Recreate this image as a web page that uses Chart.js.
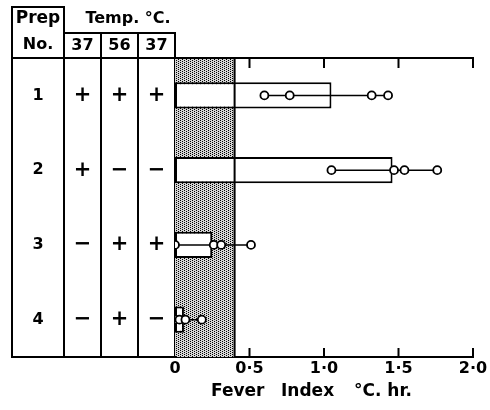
<!DOCTYPE html>
<html>
<head>
<meta charset="utf-8">
<script src="https://cdn.jsdelivr.net/npm/chart.js@4.4.0/dist/chart.umd.min.js"></script>
<style>
  body { margin: 0; background: #fff; }
  #wrap { width: 490px; height: 410px; }
</style>
</head>
<body>
<div id="wrap"><canvas id="fever" width="490" height="410"></canvas></div>
<script>
// table columns
const prepNo = ['1', '2', '3', '4'];
const tempHeads = ['37', '56', '37'];
const temp37a = ['+', '+', '−', '−'];
const temp56 = ['+', '−', '+', '+'];
const temp37b = ['+', '−', '+', '−'];

// fever index, mean bar + single rabbits
const meanIndex = [1.05, 1.46, 0.25, 0.06];
const prep1 = [0.60, 0.77, 1.32, 1.43];
const prep2 = [1.05, 1.47, 1.54, 1.76];
const prep3 = [0.00, 0.26, 0.31, 0.51];
const prep4 = [0.00, 0.03, 0.07, 0.18];
const bandLimit = 0.4;
const tickLabels = ['0', '0·5', '1·0', '1·5', '2·0'];
const axisTitle = ['Fever', 'Index', '°C. hr.'];

const FONT = "'DejaVu Sans'";

function makePattern() {
    const c = document.createElement('canvas');
    c.width = 4; c.height = 4;
    const g = c.getContext('2d');
    g.fillStyle = '#d4d4d4';
    g.fillRect(0, 0, 4, 4);
    g.fillStyle = '#000';
    g.fillRect(0, 0, 1, 1);
    g.fillRect(2, 1, 1, 1);
    g.fillRect(0, 2, 1, 1);
    g.fillRect(2, 3, 1, 1);
    return g.createPattern(c, 'repeat');
}

function pointSet(vals, label) {
    return {
        type: 'line',
        order: 1,
        data: vals.map(v => ({x: v, y: label})),
        borderColor: '#000',
        borderWidth: 1.5,
        pointRadius: 4,
        pointBorderWidth: 1.8,
        pointBackgroundColor: '#fff',
        pointBorderColor: '#000',
        fill: false
    };
}

const tablePlugin = {
    id: 'fever.table',
    beforeDatasetsDraw(chart) {
        const {ctx, chartArea, scales} = chart;
        const x0 = scales.x.getPixelForValue(0);
        const x1 = scales.x.getPixelForValue(bandLimit);
        ctx.save();
        ctx.fillStyle = makePattern();
        ctx.fillRect(x0, chartArea.top, x1 - x0, chartArea.bottom - chartArea.top);
        ctx.restore();
    },
    afterDatasetsDraw(chart) {
        const {ctx, chartArea, scales} = chart;
        const x1 = scales.x.getPixelForValue(bandLimit);
        ctx.save();
        ctx.strokeStyle = '#000';
        ctx.lineWidth = 2;
        ctx.beginPath();
        ctx.moveTo(x1, chartArea.top);
        ctx.lineTo(x1, chartArea.bottom);
        ctx.stroke();
        ctx.restore();
    },
    afterDraw(chart) {
        const {ctx, chartArea, scales} = chart;
        const top = chartArea.top, bottom = chartArea.bottom, left = chartArea.left;
        const cols = [12, 64, 101, 138, left];
        ctx.save();
        ctx.strokeStyle = '#000';
        ctx.lineWidth = 2;
        ctx.lineCap = 'square';
        const line = (ax, ay, bx, by) => {
            ctx.beginPath(); ctx.moveTo(ax, ay); ctx.lineTo(bx, by); ctx.stroke();
        };
        // table frame
        line(cols[0], 7, cols[0], bottom);
        line(cols[1], 7, cols[1], bottom);
        line(cols[2], 33, cols[2], bottom);
        line(cols[3], 33, cols[3], bottom);
        line(cols[4], 33, cols[4], top);
        line(cols[0], 7, cols[1], 7);
        line(cols[1], 33, cols[4], 33);
        line(cols[0], top, chartArea.right, top);
        line(cols[0], bottom, left, bottom);
        // inward ticks on top and bottom
        scales.x.ticks.forEach(t => {
            if (t.value === 0) return;
            const px = scales.x.getPixelForValue(t.value);
            line(px, bottom, px, bottom - 8);
            line(px, top, px, top + 9);
        });
        // texts
        ctx.fillStyle = '#000';
        ctx.textAlign = 'center';
        ctx.textBaseline = 'middle';
        ctx.font = 'bold 17px ' + FONT;
        ctx.fillText('Prep', 38, 19);
        ctx.font = 'bold 16px ' + FONT;
        ctx.fillText('No.', 38, 45);
        ctx.fillText('Temp. °C.', 128, 19);
        const mids = [82.5, 119.5, 156.5];
        tempHeads.forEach((h, i) => ctx.fillText(h, mids[i], 46));
        const signs = [temp37a, temp56, temp37b];
        prepNo.forEach((p, r) => {
            const py = scales.y.getPixelForValue(r);
            ctx.font = 'bold 16px ' + FONT;
            ctx.fillText(p, 38, py);
            ctx.font = 'bold 21px ' + FONT;
            signs.forEach((col, c) => ctx.fillText(col[r], mids[c], py));
        });
        // axis title
        ctx.font = 'bold 17px ' + FONT;
        ctx.textAlign = 'left';
        const titleX = [211, 281, 354];
        axisTitle.forEach((w, i) => ctx.fillText(w, titleX[i], 392));
        ctx.restore();
    }
};

const config = {
    data: {
        labels: prepNo,
        datasets: [
            pointSet(prep1, prepNo[0]),
            pointSet(prep2, prepNo[1]),
            pointSet(prep3, prepNo[2]),
            pointSet(prep4, prepNo[3]),
            {
                type: 'bar',
                order: 2,
                data: meanIndex,
                backgroundColor: '#fff',
                borderColor: '#000',
                borderWidth: 2,
                borderSkipped: false,
                barPercentage: 0.35,
                categoryPercentage: 1
            }
        ]
    },
    options: {
        indexAxis: 'y',
        responsive: false,
        animation: false,
        layout: {
            padding: {left: 175, top: 58, right: 17, bottom: 0}
        },
        plugins: {
            legend: {display: false},
            tooltip: {enabled: false}
        },
        scales: {
            x: {
                type: 'linear',
                position: 'bottom',
                min: 0,
                max: 2,
                ticks: {
                    stepSize: 0.5,
                    padding: 2,
                    color: '#000',
                    font: {family: FONT, size: 16, weight: 'bold'},
                    callback: (v, i) => tickLabels[i]
                },
                grid: {display: false, drawTicks: false},
                border: {display: true, width: 2, color: '#000'},
                afterFit: s => { s.height = 53; }
            },
            y: {
                type: 'category',
                ticks: {display: false},
                grid: {display: false, drawTicks: false},
                border: {display: true, width: 2, color: '#000'},
                afterFit: s => { s.width = 0; }
            }
        }
    },
    plugins: [tablePlugin]
};

const chart = new Chart(document.getElementById('fever'), config);
</script>
</body>
</html>
